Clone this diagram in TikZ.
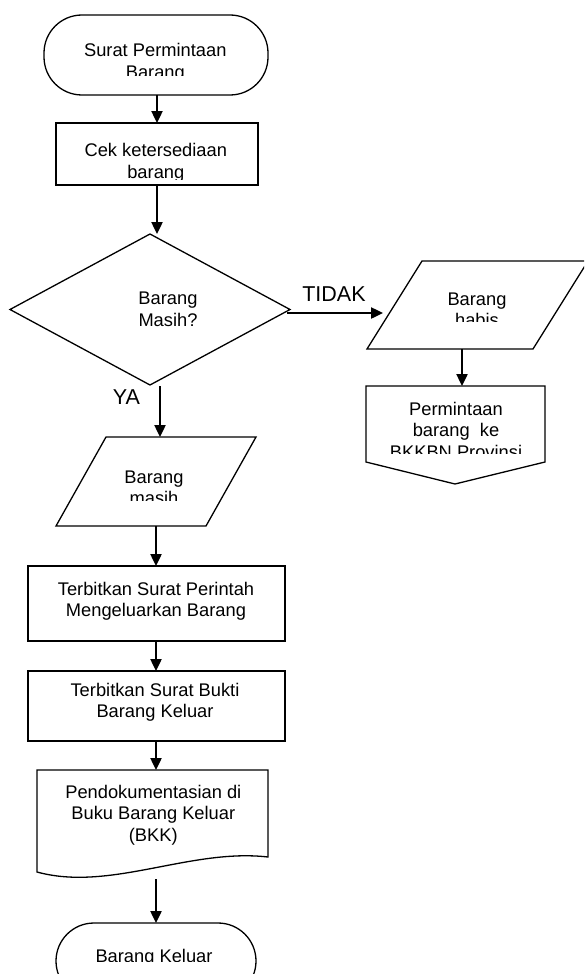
\documentclass[tikz,border=0pt]{standalone}
\usepackage{fontspec}
\setmainfont{Liberation Sans}
\usetikzlibrary{arrows.meta,shapes.geometric}
% centred lines whose first baseline is the node's base
\newcommand\mlines[1]{\begin{tabular}[t]{@{}c@{}}#1\end{tabular}}
\begin{document}
\begin{tikzpicture}[x=1pt,y=-1pt,line width=1.3pt,
  outline/.style={draw=black,line width=1.3pt,line join=miter},
  blank/.style={draw=none,inner sep=0pt,outer sep=0pt},
  flow/.style={-{Triangle[length=12pt,width=11pt]},line width=2.4pt},
  lbl/.style={font=\fontsize{18.3}{21.6}\selectfont,inner sep=0pt,anchor=base},
  branch/.style={font=\fontsize{21.5}{24}\selectfont,inner sep=0pt,anchor=base},
  term/.style={outline,blank,draw=black,rounded corners=38pt},
  procbox/.style={outline,blank,draw=black}]
\useasboundingbox (0,0) rectangle (584,974);
\clip (0,0) rectangle (584,974);

% start terminal
\node[term,minimum width=224pt,minimum height=80pt] (start) at (156,55) {};
\begin{scope}
  \clip (50,20) rectangle (260,75);
  \node[lbl] (startT) at (155.3,56.7) {\mlines{Surat Permintaan\\Barang}};
\end{scope}

% check availability
\node[procbox,minimum width=202pt,minimum height=62pt] (cek) at (157,154) {};
\begin{scope}
  \clip (60,128) rectangle (254,179.5);
  \node[lbl] (cekT) at (155.8,156.7) {\mlines{Cek ketersediaan\\barang}};
\end{scope}

% decision
\node[diamond,outline,blank,draw=black,minimum width=280pt,minimum height=151pt] (dec) at (150,309.5) {};
\node[lbl] (decT) at (168,304.7) {\mlines{Barang\\Masih?}};

% output: stock empty
\draw[outline] (422,261) -- (588,261) -- (533,349) -- (367,349) -- cycle;
\coordinate (habIn) at (383,313);
\coordinate (habOut) at (462,349);
\begin{scope}
  \clip (420,265) rectangle (540,321.7);
  \node[lbl] (habT) at (477,305) {\mlines{Barang\\habis}};
\end{scope}

% off-page: request to province
\draw[outline] (366,386) -- (545,386) -- (545,462) -- (455,484) -- (366,462) -- cycle;
\coordinate (reqIn) at (462,386);
\begin{scope}
  \clip (370,390) rectangle (542,453);
  \node[lbl] (reqT) at (456,415) {\mlines{Permintaan\\barang\ \ ke\\BKKBN Provinsi}};
\end{scope}

% output: stock available
\draw[outline] (106,437) -- (256,437) -- (206,526) -- (56,526) -- cycle;
\coordinate (masIn) at (160,437);
\coordinate (masOut) at (156,526);
\begin{scope}
  \clip (100,440) rectangle (210,500);
  \node[lbl] (masT) at (154,483.3) {\mlines{Barang\\masih}};
\end{scope}

% issue order letter
\node[procbox,minimum width=257pt,minimum height=75pt] (sppb) at (156.5,603.5) {};
\node[lbl] (sppbT) at (156,595) {\mlines{Terbitkan Surat Perintah\\Mengeluarkan Barang}};

% issue proof letter
\node[procbox,minimum width=257pt,minimum height=70pt] (sbbk) at (156.5,706) {};
\node[lbl] (sbbkT) at (155,696) {\mlines{Terbitkan Surat Bukti\\Barang Keluar}};

% document: BKK ledger
\draw[outline] (37,770) -- (268,770) -- (268,857)
  .. controls (190,848) and (110,892) .. (37,872) -- cycle;
\coordinate (docIn) at (156,770);
\coordinate (docOut) at (156,879);
\node[lbl] (docT) at (153.3,798.3) {\mlines{Pendokumentasian di\\Buku Barang Keluar\\(BKK)}};

% end terminal
\node[term,minimum width=200pt,minimum height=76pt] (stop) at (156,961) {};
\begin{scope}
  \clip (60,925) rectangle (250,961);
  \node[lbl] (stopT) at (154,962.5) {Barang Keluar};
\end{scope}

% connectors
\draw[flow] (start.south -| 157,0) -- (cek.north -| 157,0);
\draw[flow] (cek.south -| 157,0) -- (157,234);
\draw[flow] (287,313) -- (habIn);
\draw[flow] (habOut) -- (reqIn);
\draw[flow] (160,386) -- (masIn);
\draw[flow] (masOut) -- (sppb.north -| masOut);
\draw[flow] (sppb.south -| masOut) -- (sbbk.north -| masOut);
\draw[flow] (sbbk.south -| masOut) -- (docIn);
\draw[flow] (docOut) -- (stop.north -| docOut);

% branch labels
\node[branch] (tidak) at (334,301) {TIDAK};
\node[branch] (ya) at (126.5,404) {YA};
\end{tikzpicture}
\end{document}
